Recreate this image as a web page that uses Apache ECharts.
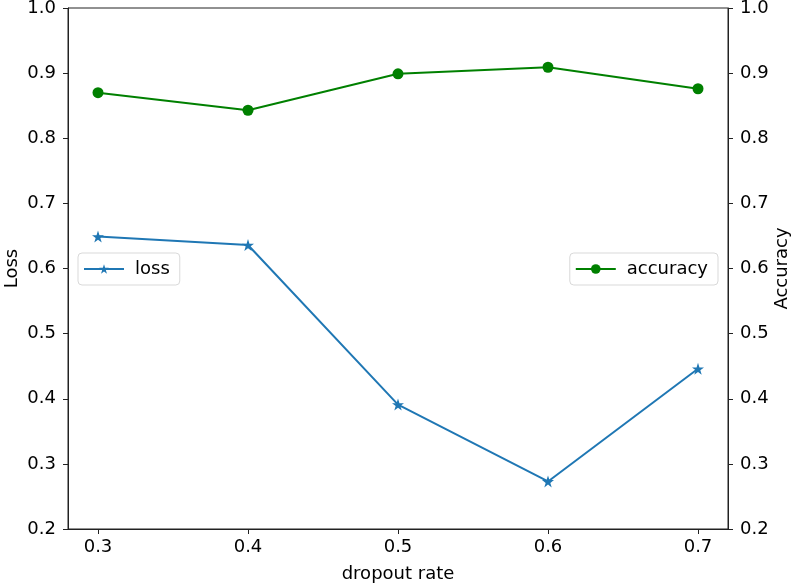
<!DOCTYPE html>
<html>
<head>
<meta charset="utf-8">
<script src="https://cdn.jsdelivr.net/npm/echarts@6/dist/echarts.min.js"></script>
<style>html,body{margin:0;padding:0;background:#fff;}#c{width:794px;height:588px;}</style>
</head>
<body>
<div id="c"></div>
<script>
const dropoutRates = [0.3, 0.4, 0.5, 0.6, 0.7];
const lossValues = [0.649, 0.636, 0.391, 0.273, 0.446];
const accuracyValues = [0.870, 0.843, 0.899, 0.909, 0.876];
const xTicks = [0.3, 0.4, 0.5, 0.6, 0.7];

const FONT = 'DejaVu Sans';
const FS = 18;
const chart = echarts.init(document.getElementById('c'), null, {renderer: 'canvas'});
const axisLine = {show: true, lineStyle: {color: '#222', width: 1}};
const axisTick = {show: true, inside: false, length: 5, lineStyle: {color: '#222', width: 1}};
const lbl = {color: '#000', fontSize: FS, fontFamily: FONT};
const legendCommon = {orient: 'vertical', itemWidth: 40, itemHeight: 12, padding: [7, 10, 7, 5],
  backgroundColor: '#fff', borderColor: '#d9d9d9', borderWidth: 1, borderRadius: 4,
  textStyle: {fontSize: FS, color: '#000', fontFamily: FONT, padding: [0, 0, 0, 6]}};

chart.setOption({
  animation: false,
  backgroundColor: '#fff',
  textStyle: {fontFamily: FONT},
  grid: {left: 68, right: 66, top: 8, bottom: 59, containLabel: false, outerBoundsMode: 'none',
         show: true, borderColor: '#222', borderWidth: 1, backgroundColor: 'transparent'},
  legend: [
    Object.assign({data: ['loss'], left: 78, top: 253}, legendCommon),
    Object.assign({data: ['accuracy'], right: 76, top: 253}, legendCommon)
  ],
  xAxis: {
    type: 'value', min: 0.28, max: 0.72,
    name: 'dropout rate', nameLocation: 'middle', nameGap: 36, nameMoveOverlap: false,
    nameTextStyle: {fontSize: FS, color: '#000', fontFamily: FONT},
    axisLine: axisLine,
    axisTick: Object.assign({customValues: xTicks}, axisTick),
    axisLabel: Object.assign({customValues: xTicks, margin: 9, formatter: v => Number(v).toFixed(1)}, lbl),
    splitLine: {show: false}
  },
  yAxis: [
    {type: 'value', min: 0.2, max: 1.0, interval: 0.1, position: 'left',
     name: 'Loss', nameLocation: 'middle', nameRotate: 90, nameGap: 47, nameMoveOverlap: false,
     nameTextStyle: {fontSize: FS, color: '#000', fontFamily: FONT},
     axisLine: axisLine, axisTick: axisTick,
     axisLabel: Object.assign({margin: 12, formatter: v => v.toFixed(1)}, lbl),
     splitLine: {show: false}},
    {type: 'value', min: 0.2, max: 1.0, interval: 0.1, position: 'right',
     name: 'Accuracy', nameLocation: 'middle', nameRotate: 90, nameGap: 45, nameMoveOverlap: false,
     nameTextStyle: {fontSize: FS, color: '#000', fontFamily: FONT},
     axisLine: axisLine, axisTick: axisTick,
     axisLabel: Object.assign({margin: 12, formatter: v => v.toFixed(1)}, lbl),
     splitLine: {show: false}}
  ],
  series: [
    {name: 'loss', type: 'line', yAxisIndex: 0,
     data: dropoutRates.map((x, i) => [x, lossValues[i]]),
     symbol: 'path://M50,0 L61.8,35.4 L99,35.4 L69,57.3 L80.4,92.7 L50,70.8 L19.6,92.7 L31,57.3 L1,35.4 L38.2,35.4 Z',
     symbolSize: 12, showAllSymbol: true,
     lineStyle: {color: '#1f77b4', width: 2}, itemStyle: {color: '#1f77b4'}},
    {name: 'accuracy', type: 'line', yAxisIndex: 1,
     data: dropoutRates.map((x, i) => [x, accuracyValues[i]]),
     symbol: 'circle', symbolSize: 11, showAllSymbol: true,
     lineStyle: {color: '#008000', width: 2}, itemStyle: {color: '#008000'}}
  ]
});
</script>
</body>
</html>
